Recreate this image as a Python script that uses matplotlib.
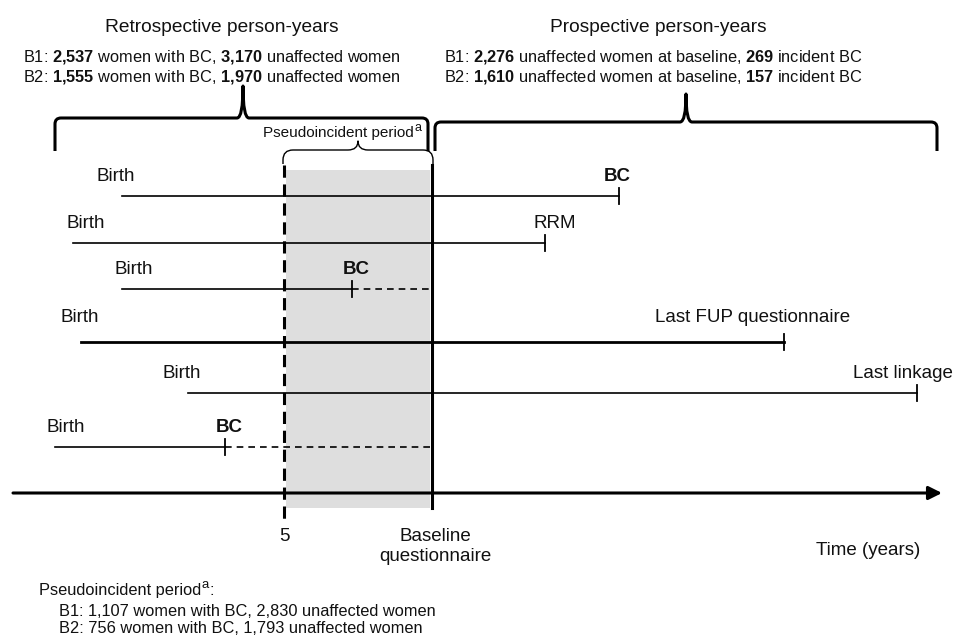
import numpy as np
import matplotlib
matplotlib.use('Agg')
import matplotlib.pyplot as plt
from matplotlib.path import Path
from matplotlib.patches import PathPatch, Rectangle

plt.rcParams['font.family'] = ['Liberation Sans', 'DejaVu Sans']
plt.rcParams['mathtext.fontset'] = 'custom'
plt.rcParams['mathtext.rm'] = 'Liberation Sans'
plt.rcParams['mathtext.bf'] = 'Liberation Sans:bold'

# timeline rows (schematic time positions, top to bottom)
row_y = [196, 243, 289, 342, 393, 447]
birth_x = [122, 73, 122, 81, 188, 55]
birth_lbl_x = [116, 86, 134, 80, 182, 66]
event_x = [619, 545, 352, 784, 917, 225]
event_lbl = ['BC', 'RRM', 'BC', 'Last FUP questionnaire', 'Last linkage', 'BC']
event_bold = [True, False, True, False, False, True]
dashed_to_baseline = [False, False, True, False, False, True]

# key time points
t_start, t_end = 13, 942
t_pseudo = 284
t_baseline = 432

# counts
retro_b1 = ['2,537', '3,170']
retro_b2 = ['1,555', '1,970']
prosp_b1 = ['2,276', '269']
prosp_b2 = ['1,610', '157']
pseudo_b1 = ['1,107', '2,830']
pseudo_b2 = ['756', '1,793']

TXT = '#111111'


def bold(s):
    return r'$\mathbf{' + s.replace(',', '{,}') + '}$'


def brace(ax, x0, x1, xp, y_end, y_bar, y_peak, r=6, lw=2.0):
    verts = [(x0, y_end), (x0, y_bar + r), (x0, y_bar), (x0 + r, y_bar),
             (xp - r, y_bar), (xp, y_bar), (xp, y_peak),
             (xp, y_bar), (xp + r, y_bar),
             (x1 - r, y_bar), (x1, y_bar), (x1, y_bar + r), (x1, y_end)]
    codes = [Path.MOVETO, Path.LINETO, Path.CURVE3, Path.CURVE3,
             Path.LINETO, Path.CURVE3, Path.CURVE3,
             Path.CURVE3, Path.CURVE3,
             Path.LINETO, Path.CURVE3, Path.CURVE3, Path.LINETO]
    ax.add_patch(PathPatch(Path(verts, codes), fill=False, lw=lw, ec='k',
                           capstyle='butt', joinstyle='round'))


def sup_a(ax, t, size):
    # superscript "a" attached to the top right of a text
    return ax.annotate('a', xy=(1, 1), xycoords=t, xytext=(0.5, -1.5),
                       textcoords='offset points', ha='left', va='center',
                       fontsize=size, color=TXT)


fig = plt.figure(figsize=(9.54, 6.35), dpi=100)
ax = fig.add_axes([0, 0, 1, 1])
ax.set_xlim(0, 954)
ax.set_ylim(635, 0)
ax.axis('off')

# shaded pseudoincident period
ax.add_patch(Rectangle((t_pseudo + 2, 170), t_baseline - t_pseudo - 4, 338,
                       fc='#dedede', ec='none', zorder=0))
ax.plot([t_pseudo, t_pseudo], [165, 521], color='k', lw=2.2,
        dashes=(4, 2.2), zorder=3)
ax.plot([t_baseline, t_baseline], [165, 508], color='k', lw=2.2, zorder=3)

# time axis
ax.annotate('', xy=(t_end, 493), xytext=(t_start, 493),
            arrowprops=dict(arrowstyle='-|>', lw=2.2, color='k',
                            mutation_scale=20, shrinkA=0, shrinkB=0))

# rows
for i in range(len(row_y)):
    y = row_y[i]
    lw = 2.0 if i == 3 else 1.2
    ax.plot([birth_x[i], event_x[i]], [y, y], color='k', lw=lw, zorder=2)
    ax.plot([event_x[i], event_x[i]], [y - 8, y + 8], color='k', lw=1.3, zorder=2)
    if dashed_to_baseline[i]:
        ax.plot([event_x[i], t_baseline], [y, y], color='k', lw=1.2,
                dashes=(4, 3), zorder=2)
    base = y - 15 if i != 3 else y - 20
    ax.text(birth_lbl_x[i], base, 'Birth', ha='center', va='baseline',
            fontsize=13.5, color=TXT)
    if i == 3:
        ax.text(850, base, event_lbl[i], ha='right', va='baseline',
                fontsize=13.5, color=TXT)
    elif i == 4:
        ax.text(953, base, event_lbl[i], ha='right', va='baseline',
                fontsize=13.5, color=TXT)
    else:
        lx = {0: 617, 1: 555, 2: 356, 5: 229}[i]
        ax.text(lx, base, event_lbl[i], ha='center', va='baseline',
                fontsize=13.5, color=TXT,
                fontweight='bold' if event_bold[i] else 'normal')

# braces
brace(ax, 55, 428, 243, 151, 118, 86, r=6, lw=2.2)
brace(ax, 435, 937, 686, 151, 122, 94, r=6, lw=2.2)
brace(ax, 283, 433, 358, 164, 150, 141, r=10, lw=1.0)

# top labels
ax.text(222, 32, 'Retrospective person-years', ha='center', va='baseline',
        fontsize=13.8, color=TXT)
ax.text(23, 62, 'B1: ' + bold(retro_b1[0]) + ' women with BC, ' + bold(retro_b1[1])
        + ' unaffected women', va='baseline', fontsize=11.8, color=TXT)
ax.text(23, 81, 'B2: ' + bold(retro_b2[0]) + ' women with BC, ' + bold(retro_b2[1])
        + ' unaffected women', va='baseline', fontsize=11.8, color=TXT)
ax.text(658, 32, 'Prospective person-years', ha='center', va='baseline',
        fontsize=13.8, color=TXT)
ax.text(444, 62, 'B1: ' + bold(prosp_b1[0]) + ' unaffected women at baseline, '
        + bold(prosp_b1[1]) + ' incident BC', va='baseline', fontsize=11.8, color=TXT)
ax.text(444, 81, 'B2: ' + bold(prosp_b2[0]) + ' unaffected women at baseline, '
        + bold(prosp_b2[1]) + ' incident BC', va='baseline', fontsize=11.8, color=TXT)
t_pi = ax.text(263, 137, 'Pseudoincident period', ha='left',
               va='baseline', fontsize=11, color=TXT)
sup_a(ax, t_pi, 9)

# axis labels
ax.text(t_pseudo, 541, '5', ha='center', va='baseline', fontsize=13.5, color=TXT)
ax.text(435, 541, 'Baseline', ha='center', va='baseline', fontsize=13.5, color=TXT)
ax.text(435, 561, 'questionnaire', ha='center', va='baseline', fontsize=13.5, color=TXT)
ax.text(868, 555, 'Time (years)', ha='center', va='baseline', fontsize=13.5, color=TXT)

# footnote
t_fn = ax.text(39, 595, 'Pseudoincident period', va='baseline',
               fontsize=11.8, color=TXT)
sup_a(ax, t_fn, 9.5)
ax.annotate(':', xy=(1, 0), xycoords=t_fn, xytext=(6, 2.5),
            textcoords='offset points', ha='left', va='baseline',
            fontsize=11.8, color=TXT)
ax.text(59, 616, 'B1: %s women with BC, %s unaffected women' % tuple(pseudo_b1),
        va='baseline', fontsize=11.8, color=TXT)
ax.text(59, 633, 'B2: %s women with BC, %s unaffected women' % tuple(pseudo_b2),
        va='baseline', fontsize=11.8, color=TXT)

fig.savefig('out.png', dpi=100)
